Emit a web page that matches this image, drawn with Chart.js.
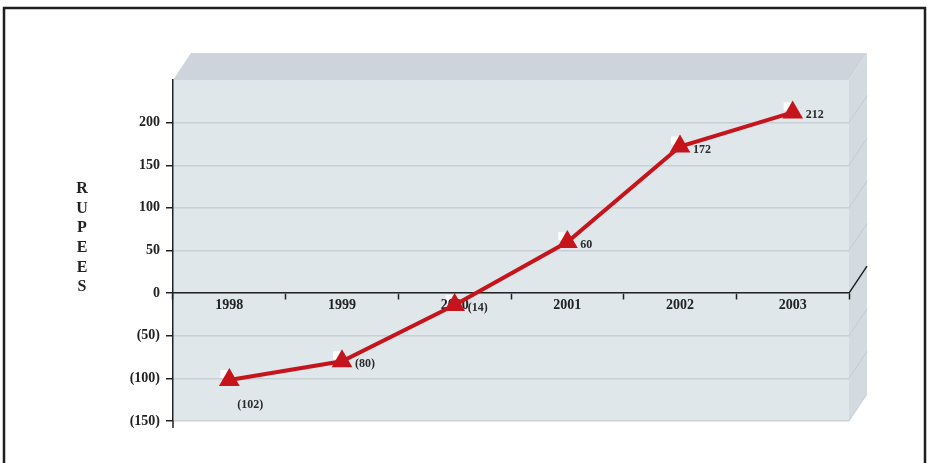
<!DOCTYPE html>
<html>
<head>
<meta charset="utf-8">
<title>Rupees 1998-2003</title>
<script src="https://cdn.jsdelivr.net/npm/chart.js@4.4.0/dist/chart.umd.min.js"></script>
<style>
  html, body { margin: 0; padding: 0; background: #fff; }
  #wrap { width: 927px; height: 463px; }
</style>
</head>
<body>
<div id="wrap"><canvas id="grafico" width="927" height="463"></canvas></div>
<script>
// valores por ano (negativos aparecem entre parênteses)
const anos = ["1998", "1999", "2000", "2001", "2002", "2003"];
const valores = [-102, -80, -14, 60, 172, 212];
const eixoY = { min: -150, max: 250, passo: 50 };
const tituloEixo = "RUPEES";

const vermelho = "#c6141d";
const serif = "'Liberation Serif', 'DejaVu Serif', serif";

function formatar(v) {
    return v < 0 ? "(" + Math.abs(v) + ")" : String(v);
}

// profundidade do efeito 3D
const prof = { dx: 18, dy: -27 };

const fundo3d = {
    id: "fundo3d",
    beforeDraw(chart) {
        const ctx = chart.ctx;
        const a = chart.chartArea;
        const y = chart.scales.y;
        ctx.save();
        ctx.fillStyle = "#fff";
        ctx.fillRect(0, 0, chart.width, chart.height);

        // moldura externa
        ctx.strokeStyle = "#1e1e1e";
        ctx.lineWidth = 2.5;
        ctx.beginPath();
        ctx.moveTo(4, chart.height);
        ctx.lineTo(4, 8);
        ctx.lineTo(925, 8);
        ctx.lineTo(925, chart.height);
        ctx.stroke();

        // face superior
        ctx.fillStyle = "#cdd4db";
        ctx.beginPath();
        ctx.moveTo(a.left, a.top);
        ctx.lineTo(a.left + prof.dx, a.top + prof.dy);
        ctx.lineTo(a.right + prof.dx, a.top + prof.dy);
        ctx.lineTo(a.right, a.top);
        ctx.closePath();
        ctx.fill();

        // face lateral
        ctx.fillStyle = "#d3dae0";
        ctx.beginPath();
        ctx.moveTo(a.right, a.top);
        ctx.lineTo(a.right + prof.dx, a.top + prof.dy);
        ctx.lineTo(a.right + prof.dx, a.bottom + prof.dy);
        ctx.lineTo(a.right, a.bottom);
        ctx.closePath();
        ctx.fill();

        // grade na face lateral
        ctx.strokeStyle = "#c5ced4";
        ctx.lineWidth = 1;
        for (let v = eixoY.min; v < eixoY.max; v += eixoY.passo) {
            if (v === 0) continue;
            const py = y.getPixelForValue(v);
            ctx.beginPath();
            ctx.moveTo(a.right, py);
            ctx.lineTo(a.right + prof.dx, py + prof.dy);
            ctx.stroke();
        }

        // face frontal
        ctx.fillStyle = "#e0e7ea";
        ctx.fillRect(a.left, a.top, a.right - a.left, a.bottom - a.top);

        // pequenos recortes brancos junto aos marcadores
        ctx.fillStyle = "#fff";
        chart.getDatasetMeta(0).data.forEach(p => {
            ctx.fillRect(p.x - 9, p.y - 10, 7, 8);
        });
        ctx.restore();
    },
    afterDraw(chart) {
        const ctx = chart.ctx;
        const a = chart.chartArea;
        const y = chart.scales.y;
        const zero = y.getPixelForValue(0);
        ctx.save();
        ctx.strokeStyle = "#222";
        ctx.lineWidth = 1.5;
        ctx.beginPath();
        ctx.moveTo(a.left, a.bottom);
        ctx.lineTo(a.left, a.bottom + 7);
        ctx.moveTo(a.right, zero);
        ctx.lineTo(a.right + prof.dx, zero + prof.dy);
        ctx.stroke();

        // rótulos de valores
        ctx.fillStyle = "#2a2a2a";
        ctx.font = "bold 12px " + serif;
        ctx.textBaseline = "middle";
        chart.getDatasetMeta(0).data.forEach((p, i) => {
            const txt = formatar(valores[i]);
            if (i === 0) {
                ctx.textAlign = "center";
                ctx.fillText(txt, p.x + 21, p.y + 25);
            } else {
                ctx.textAlign = "left";
                ctx.fillText(txt, p.x + 13, p.y + 3);
            }
        });

        // título vertical do eixo Y
        ctx.fillStyle = "#222";
        ctx.font = "bold 16px " + serif;
        ctx.textAlign = "center";
        tituloEixo.split("").forEach((c, i) => {
            ctx.fillText(c, 82, 189 + i * 19.6);
        });
        ctx.restore();
    }
};

new Chart(document.getElementById("grafico"), {
    type: "line",
    data: {
        labels: anos,
        datasets: [{
            data: valores,
            borderColor: vermelho,
            borderWidth: 4,
            backgroundColor: vermelho,
            pointStyle: "triangle",
            pointRadius: 12,
            pointHoverRadius: 12,
            pointBorderWidth: 0,
            tension: 0,
            fill: false
        }]
    },
    options: {
        responsive: false,
        animation: false,
        layout: { padding: { left: 0, top: 80, right: 78, bottom: 42 } },
        plugins: { legend: { display: false }, tooltip: { enabled: false } },
        scales: {
            x: {
                type: "category",
                position: { y: 0 },
                offset: true,
                grid: {
                    offset: true,
                    drawOnChartArea: false,
                    tickLength: 6,
                    tickColor: "#222",
                    tickWidth: 1.5
                },
                border: { color: "#222", width: 1.5 },
                ticks: {
                    color: "#222",
                    padding: -2,
                    font: { family: serif, size: 14, weight: "bold" }
                }
            },
            y: {
                min: eixoY.min,
                max: eixoY.max,
                afterFit(scale) { scale.width = 173; },
                grid: {
                    color: ctx => ctx.tick && ctx.tick.value === eixoY.max ? "rgba(0,0,0,0)" : "#c8d0d5",
                    lineWidth: 1.5,
                    tickLength: 7,
                    tickColor: ctx => ctx.tick && ctx.tick.value === eixoY.max ? "rgba(0,0,0,0)" : "#222",
                    tickWidth: 1.5
                },
                border: { color: "#222", width: 1.5 },
                ticks: {
                    stepSize: eixoY.passo,
                    color: "#222",
                    padding: 6,
                    font: { family: serif, size: 14, weight: "bold" },
                    callback: v => v === eixoY.max ? "" : formatar(v)
                }
            }
        }
    },
    plugins: [fundo3d]
});
</script>
</body>
</html>
